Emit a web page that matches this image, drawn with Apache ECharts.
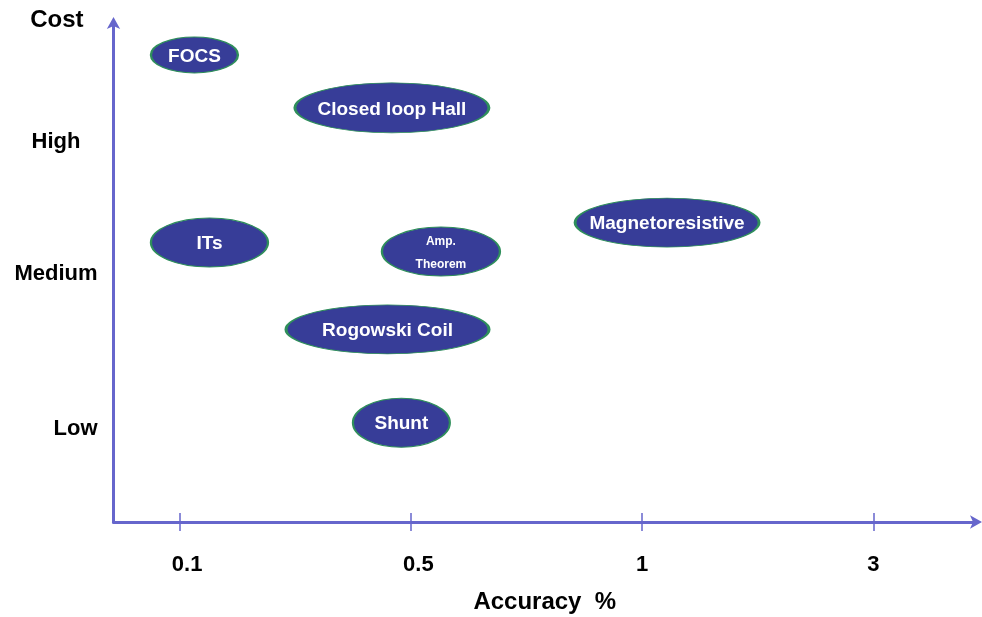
<!DOCTYPE html>
<html>
<head>
<meta charset="utf-8">
<script src="https://cdn.jsdelivr.net/npm/echarts@6/dist/echarts.min.js"></script>
<style>
  html, body { margin: 0; padding: 0; background: #ffffff; }
  #chart { width: 982px; height: 617px; }
</style>
</head>
<body>
<div id="chart"></div>
<script>
// ---- Data ----
// x: position on the accuracy scale, in tick steps (0 = 0.1 %, 1 = 0.5 %, 2 = 1 %, 3 = 3 %)
// y: position on the cost scale (0 = bottom of axis, 10 = top)
const techNames   = ['FOCS', 'Closed loop Hall', 'ITs', 'Amp.\nTheorem', 'Magnetoresistive', 'Rogowski Coil', 'Shunt'];
const accuracyPos = [0.064, 0.918, 0.129, 1.130, 2.108, 0.899, 0.959];
const costPos     = [9.36, 8.30, 5.60, 5.42, 6.00, 3.86, 1.99];

const xTickValues = [0, 1, 2, 3];
const xTickLabels = ['0.1', '0.5', '1', '3'];
const yTickValues = [1.87, 4.97, 7.61];
const yTickLabels = ['Low', 'Medium', 'High'];

// ---- Styles ----
const AXIS_COLOR = '#6666cc';
const FILL = '#373d98';
const BORDER = '#2f8f5b';
const FONT = 'Liberation Sans, Arial, sans-serif';
const bubbleSizes = {
  'FOCS': [87, 36],
  'Closed loop Hall': [194, 50],
  'ITs': [117, 49],
  'Amp.\nTheorem': [118, 49],
  'Magnetoresistive': [184, 49],
  'Rogowski Coil': [203, 49],
  'Shunt': [97, 49]
};

const seriesData = techNames.map((n, i) => {
  const item = {
    name: n,
    value: [accuracyPos[i], costPos[i]],
    symbolSize: bubbleSizes[n]
  };
  if (n.indexOf('\n') >= 0) {
    item.label = { fontSize: 12, lineHeight: 23, offset: [0, 2] };
  }
  return item;
});

const X_MIN = -0.286, X_MAX = 3.444;

function xLabel(v) {
  const i = xTickValues.indexOf(Math.round(v));
  const t = xTickLabels[i];
  return (i === 0 || i === 1) ? '{s|' + t + '}' : '{n|' + t + '}';
}
function yLabel(v) {
  let best = 0;
  for (let i = 0; i < yTickValues.length; i++) {
    if (Math.abs(yTickValues[i] - v) < Math.abs(yTickValues[best] - v)) best = i;
  }
  const t = yTickLabels[best];
  return t === 'High' ? '{h|' + t + '}' : '{n|' + t + '}';
}

const labelFont = { fontFamily: FONT, fontWeight: 'bold', fontSize: 22, color: '#000' };

const option = {
  backgroundColor: '#ffffff',
  animation: false,
  grid: { left: 113.5, right: 6, top: 23, bottom: 95, containLabel: false, outerBoundsMode: 'none' },
  xAxis: [
    {
      type: 'value',
      min: X_MIN, max: X_MAX,
      position: 'bottom',
      name: 'Accuracy  %',
      nameLocation: 'middle',
      nameGap: 68,
      nameTextStyle: { fontFamily: FONT, fontWeight: 'bold', fontSize: 24, color: '#000', verticalAlign: 'top' },
      axisLine: { show: true, onZero: false, symbol: ['none', 'arrow'], symbolSize: [10, 12],
                  symbolOffset: [0, 6],
                  lineStyle: { color: AXIS_COLOR, width: 3 } },
      axisTick: { show: true, inside: false, length: 9, customValues: xTickValues,
                  lineStyle: { color: AXIS_COLOR, width: 1.5 } },
      axisLabel: { show: true, customValues: xTickValues, margin: 32, formatter: xLabel,
                   rich: {
                     s: Object.assign({ padding: [0, 0, 0, 15] }, labelFont),
                     n: Object.assign({}, labelFont)
                   } },
      splitLine: { show: false }
    },
    {
      type: 'value',
      min: X_MIN, max: X_MAX,
      position: 'bottom',
      axisLine: { show: false, onZero: false },
      axisTick: { show: true, inside: true, length: 9, customValues: xTickValues,
                  lineStyle: { color: AXIS_COLOR, width: 1.5 } },
      axisLabel: { show: false },
      splitLine: { show: false }
    }
  ],
  yAxis: {
    type: 'value',
    min: 0, max: 10,
    name: 'Cost',
    nameLocation: 'end',
    nameGap: 3,
    nameTextStyle: { fontFamily: FONT, fontWeight: 'bold', fontSize: 24, color: '#000',
                     align: 'right', verticalAlign: 'middle', padding: [0, 30, 0, 0] },
    axisLine: { show: true, onZero: false, symbol: ['none', 'arrow'], symbolSize: [10, 12],
                symbolOffset: [0, 6],
                lineStyle: { color: AXIS_COLOR, width: 3 } },
    axisTick: { show: false },
    axisLabel: { show: true, customValues: yTickValues, margin: 16, formatter: yLabel,
                 rich: {
                   h: Object.assign({ padding: [0, 17, 0, 0] }, labelFont),
                   n: Object.assign({}, labelFont)
                 } },
    splitLine: { show: false }
  },
  series: [{
    type: 'scatter',
    xAxisIndex: 0,
    symbol: 'circle',
    data: seriesData,
    itemStyle: { color: FILL, borderColor: BORDER, borderWidth: 1.5, opacity: 1 },
    label: {
      show: true, position: 'inside',
      offset: [0, 1.5],
      formatter: p => p.name,
      fontFamily: FONT, fontWeight: 'bold', fontSize: 19, color: '#ffffff'
    },
    emphasis: { disabled: true }
  }]
};

const chart = echarts.init(document.getElementById('chart'), null, { renderer: 'canvas' });
chart.setOption(option);
</script>
</body>
</html>
